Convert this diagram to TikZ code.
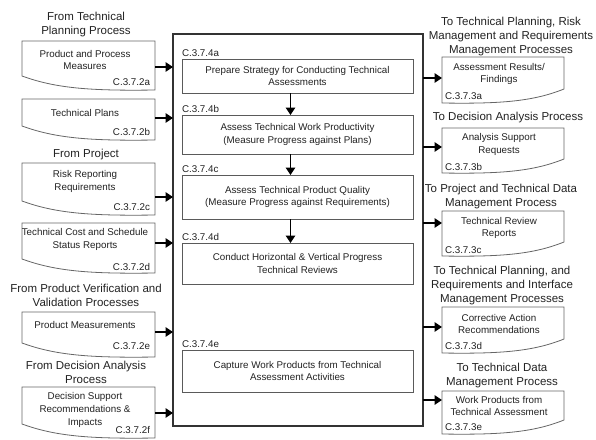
\documentclass[tikz,border=0pt]{standalone}
\usepackage{fontspec}
\setmainfont{Liberation Sans}
\usetikzlibrary{arrows.meta,calc}
\definecolor{ink}{HTML}{222222}
\definecolor{docrule}{HTML}{666666}
\definecolor{boxrule}{HTML}{5A5A5A}
\definecolor{frameline}{HTML}{333333}

% input document: wavy bottom rising towards the left
\newcommand{\leftdoc}[3]{%
  \node[docarea, minimum width=133pt, minimum height={#3-#2}] (#1) at (22,#2) {};
  \draw[docline] (#1.north west) -- (#1.north east) -- (#1.south east)
    .. controls ($(#1.south)+(0,1)$) and ($(#1.south west)+(33,-2)$)
    .. ($(#1.south west)+(0,-14)$) -- cycle;
}
% output document: wavy bottom rising towards the right
\newcommand{\rightdoc}[3]{%
  \node[docarea, minimum width=122pt, minimum height={#3-#2}] (#1) at (442,#2) {};
  \draw[docline] (#1.north west) -- (#1.north east) -- ($(#1.south east)+(0,-14)$)
    .. controls ($(#1.south east)+(-30,-2)$) and ($(#1.south)+(0,1)$)
    .. (#1.south west) -- cycle;
}

\begin{document}
\begin{tikzpicture}[x=1pt,y=-1pt,
  every node/.style={inner sep=0pt, outer sep=0pt, text=ink},
  head/.style={font=\fontsize{11.5}{14}\selectfont, align=center},
  body/.style={font=\fontsize{9.8}{12.8}\selectfont, align=center},
  tag/.style={font=\fontsize{9.8}{12}\selectfont},
  frame/.style={draw=frameline, line width=1.5pt, anchor=north west},
  stepbox/.style={draw=boxrule, line width=0.8pt, anchor=north west,
    minimum width=231pt, body},
  docarea/.style={anchor=north west, draw=none},
  docline/.style={draw=docrule, line width=0.8pt, fill=white},
  flow/.style={draw=black, line width=1.7pt, -{Triangle[length=7.5pt,width=9.5pt]}}
]
\useasboundingbox (0,0) rectangle (596,439);

% ---------- central process frame ----------
\node[frame, minimum width=250pt, minimum height=392pt] (main) at (173,34) {};

\node[stepbox, minimum height=34pt] (s1) at (182,59)
  {Prepare Strategy for Conducting Technical\\Assessments};
\node[stepbox, minimum height=39pt] (s2) at (182,115)
  {Assess Technical Work Productivity\\(Measure Progress against Plans)};
\node[stepbox, minimum height=44pt] (s3) at (182,175)
  {Assess Technical Product Quality\\(Measure Progress against Requirements)};
\node[stepbox, minimum height=41pt] (s4) at (182,243)
  {Conduct Horizontal \& Vertical Progress\\Technical Reviews};
\node[stepbox, minimum height=42pt] (s5) at (182,350)
  {Capture Work Products from Technical\\Assessment Activities};

\node[tag, anchor=west] (k1) at (182,53) {C.3.7.4a};
\node[tag, anchor=west] (k2) at (182,109) {C.3.7.4b};
\node[tag, anchor=west] (k3) at (182,169) {C.3.7.4c};
\node[tag, anchor=west] (k4) at (182,237) {C.3.7.4d};
\node[tag, anchor=west] (k5) at (182,344) {C.3.7.4e};

\draw[flow] ($(s1.south)+(-7,0)$) -- ($(s2.north)+(-7,0)$);
\draw[flow] ($(s2.south)+(-7,0)$) -- ($(s3.north)+(-7,0)$);
\draw[flow] ($(s3.south)+(-7,0)$) -- ($(s4.north)+(-7,0)$);

% ---------- inputs ----------
\node[head] (h1) at (86,24.5) {From Technical\\Planning Process};
\node[head] (h2) at (86,155) {From Project};
\node[head] (h3) at (86,295) {From Product Verification and\\Validation Processes};
\node[head] (h4) at (86,372) {From Decision Analysis\\Process};

\leftdoc{d2a}{41}{90}
\leftdoc{d2b}{99}{140}
\leftdoc{d2c}{163}{215}
\leftdoc{d2d}{223}{273}
\leftdoc{d2e}{312}{357}
\leftdoc{d2f}{387}{438}

\node[body] (t2a) at (85,60) {Product and Process\\Measures};
\node[body] (t2b) at (85,113) {Technical Plans};
\node[body] (t2c) at (85,181.5) {Risk Reporting\\Requirements};
\node[body] (t2d) at (85,239.5) {Technical Cost and Schedule\\Status Reports};
\node[body] (t2e) at (85,325) {Product Measurements};
\node[body] (t2f) at (85,410) {Decision Support\\Recommendations \&\\Impacts};

\node[tag, anchor=east] (c2a) at (150,82) {C.3.7.2a};
\node[tag, anchor=east] (c2b) at (150,132) {C.3.7.2b};
\node[tag, anchor=east] (c2c) at (150,207) {C.3.7.2c};
\node[tag, anchor=east] (c2d) at (150,267) {C.3.7.2d};
\node[tag, anchor=east] (c2e) at (150,346) {C.3.7.2e};
\node[tag, anchor=east] (c2f) at (150,430) {C.3.7.2f};

\coordinate (i2a) at ($(d2a.north east)+(0,26)$);
\coordinate (i2b) at ($(d2b.north east)+(0,19)$);
\coordinate (i2c) at ($(d2c.north east)+(0,34)$);
\coordinate (i2d) at ($(d2d.north east)+(0,20)$);
\coordinate (i2e) at ($(d2e.north east)+(0,20)$);
\coordinate (i2f) at ($(d2f.north east)+(0,26)$);
\foreach \p in {i2a,i2b,i2c,i2d,i2e,i2f}
  \draw[flow] (\p) -- (\p -| main.west);

% ---------- outputs ----------
\node[head] (g1) at (511,37) {To Technical Planning, Risk\\Management and Requirements\\Management Processes};
\node[head] (g2) at (508,118) {To Decision Analysis Process};
\node[head] (g3) at (501,196.5) {To Project and Technical Data\\Management Process};
\node[head] (g4) at (502,285.5) {To Technical Planning, and\\Requirements and Interface\\Management Processes};
\node[head] (g5) at (502,375.5) {To Technical Data\\Management Process};

\rightdoc{d3a}{57}{103}
\rightdoc{d3b}{128}{173}
\rightdoc{d3c}{211}{256}
\rightdoc{d3d}{307}{353}
\rightdoc{d3e}{391}{434}

\node[body] (t3a) at (499,74) {Assessment Results/\\Findings};
\node[body] (t3b) at (499,144.5) {Analysis Support\\Requests};
\node[body] (t3c) at (499,228) {Technical Review\\Reports};
\node[body] (t3d) at (499,324) {Corrective Action\\Recommendations};
\node[body] (t3e) at (499,406) {Work Products from\\Technical Assessment};

\node[tag, anchor=west] (c3a) at (445,96) {C.3.7.3a};
\node[tag, anchor=west] (c3b) at (445,167) {C.3.7.3b};
\node[tag, anchor=west] (c3c) at (445,250) {C.3.7.3c};
\node[tag, anchor=west] (c3d) at (445,346) {C.3.7.3d};
\node[tag, anchor=west] (c3e) at (445,427) {C.3.7.3e};

\coordinate (o3a) at ($(d3a.north west)+(0,21)$);
\coordinate (o3b) at ($(d3b.north west)+(0,19)$);
\coordinate (o3c) at ($(d3c.north west)+(0,12)$);
\coordinate (o3d) at ($(d3d.north west)+(0,20)$);
\coordinate (o3e) at ($(d3e.north west)+(0,9)$);
\foreach \p in {o3a,o3b,o3c,o3d,o3e}
  \draw[flow] (\p -| main.east) -- (\p);
\end{tikzpicture}
\end{document}
